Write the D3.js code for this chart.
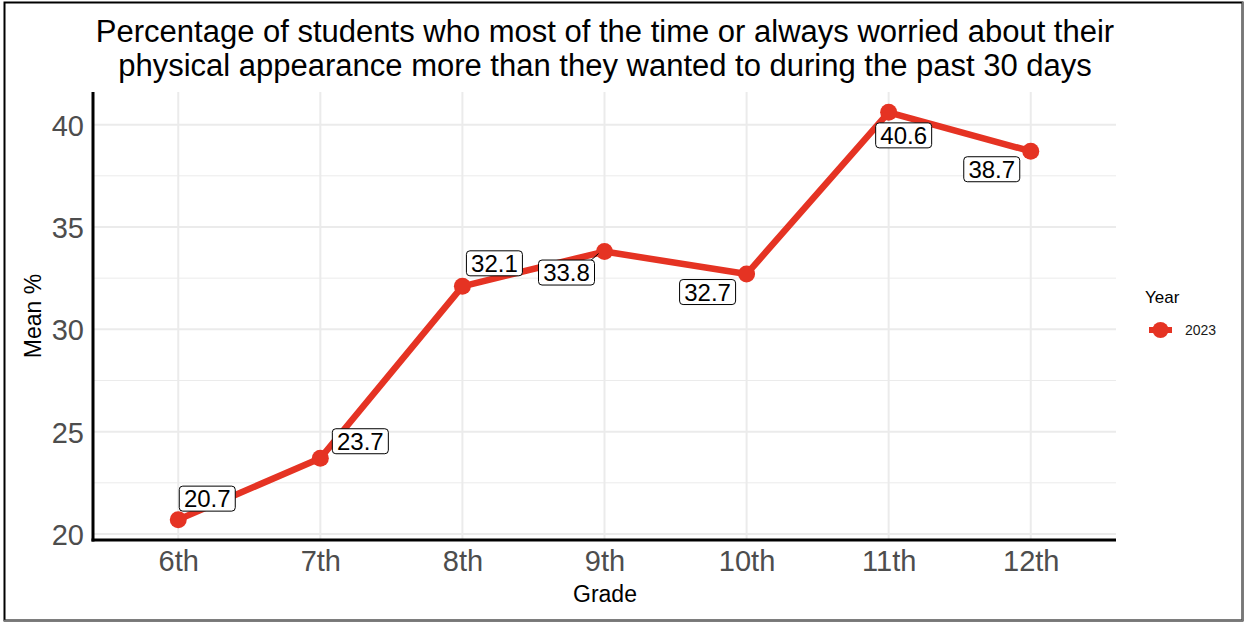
<!DOCTYPE html>
<html><head><meta charset="utf-8">
<script src="https://cdn.jsdelivr.net/npm/d3@7/dist/d3.min.js"></script>
<style>body{margin:0;background:#fff;} svg{display:block;font-family:"Liberation Sans",Arial,sans-serif;}</style>
</head><body>
<svg id="c" width="1244" height="623"></svg>
<script>
const grades = ["6th","7th","8th","9th","10th","11th","12th"];
const values = [20.7, 23.7, 32.1, 33.8, 32.7, 40.6, 38.7];
const yTicks = [20, 25, 30, 35, 40];
const yMinor = [22.5, 27.5, 32.5, 37.5];
const seriesName = "2023";
const titleLines = ["Percentage of students who most of the time or always worried about their",
                    "physical appearance more than they wanted to during the past 30 days"];
// label nudges (pixels, centre of label relative to point)
const labelNudge = [[29,-21],[40,-17],[32,-23],[-38,21],[-39,18],[15,23],[-39,18]];

const svg = d3.select("#c");
const red = "#e53323";
const L = 93, R = 1116, T = 92, B = 540;
const vMin = d3.min(values), vMax = d3.max(values), pad = 0.05*(vMax-vMin);
const yMin = vMin - pad, yMax = vMax + pad;

svg.append("rect").attr("x",4.5).attr("y",2.5).attr("width",1238).attr("height",618)
  .attr("fill","#fff").attr("stroke","#000").attr("stroke-width",2);
svg.append("line").attr("x1",1242.5).attr("x2",1242.5).attr("y1",2).attr("y2",621).attr("stroke","#777").attr("stroke-width",1.5);
svg.append("line").attr("x1",4).attr("x2",1243).attr("y1",620.5).attr("y2",620.5).attr("stroke","#777").attr("stroke-width",1.5);

const x = d3.scalePoint().domain(grades).range([L,R]).padding(0.6);
const y = d3.scaleLinear().domain([yMin,yMax]).range([B,T]);

const g = svg.append("g");
// grid
g.selectAll(".gmin").data(yMinor).join("line").attr("x1",L).attr("x2",R)
  .attr("y1",d=>y(d)).attr("y2",d=>y(d)).attr("stroke","#ebebeb").attr("stroke-width",1);
g.selectAll(".gmaj").data(yTicks).join("line").attr("x1",L).attr("x2",R)
  .attr("y1",d=>y(d)).attr("y2",d=>y(d)).attr("stroke","#ebebeb").attr("stroke-width",2);
g.selectAll(".gx").data(grades).join("line").attr("y1",T).attr("y2",B)
  .attr("x1",d=>x(d)).attr("x2",d=>x(d)).attr("stroke","#ebebeb").attr("stroke-width",2);

// axes
const xAxis = svg.append("g").attr("transform",`translate(0,${B})`)
  .call(d3.axisBottom(x).tickSize(0).tickPadding(10));
xAxis.select(".domain").remove();
xAxis.selectAll("text").attr("font-size",29).attr("fill","#4d4d4d").attr("font-family","Liberation Sans, Arial, sans-serif").attr("dy","0.71em");
const yAxis = svg.append("g").attr("transform",`translate(${L},0)`)
  .call(d3.axisLeft(y).tickValues(yTicks).tickSize(0).tickPadding(9));
yAxis.select(".domain").remove();
yAxis.selectAll("text").attr("font-size",29).attr("fill","#4d4d4d").attr("font-family","Liberation Sans, Arial, sans-serif").attr("dy","0.36em");

svg.append("line").attr("x1",L).attr("x2",L).attr("y1",T).attr("y2",B+1.5).attr("stroke","#000").attr("stroke-width",3);
svg.append("line").attr("x1",L-1.5).attr("x2",R).attr("y1",B).attr("y2",B).attr("stroke","#000").attr("stroke-width",3);

// line & points
const pts = grades.map((gname,i)=>({g:gname,v:values[i],n:labelNudge[i]}));
svg.append("path").datum(pts).attr("fill","none").attr("stroke",red).attr("stroke-width",6.5)
  .attr("stroke-linejoin","round")
  .attr("d",d3.line().x(d=>x(d.g)).y(d=>y(d.v)));
svg.selectAll(".pt").data(pts).join("circle").attr("cx",d=>x(d.g)).attr("cy",d=>y(d.v)).attr("r",8.5).attr("fill",red);

// segment for 33.8 label
const seg = pts[3];
svg.append("line").attr("x1",x(seg.g)+seg.n[0]+22).attr("y1",y(seg.v)+seg.n[1]-10)
  .attr("x2",x(seg.g)-6).attr("y2",y(seg.v)+2).attr("stroke","#000").attr("stroke-width",1);

// labels
const lab = svg.selectAll(".lab").data(pts).join("g")
  .attr("transform",d=>`translate(${x(d.g)+d.n[0]},${y(d.v)+d.n[1]})`);
lab.append("rect").attr("x",-28).attr("y",-12.5).attr("width",56).attr("height",25).attr("rx",3.5)
  .attr("fill","#fff").attr("stroke","#000").attr("stroke-width",1);
lab.append("text").attr("text-anchor","middle").attr("dy","0.36em").attr("font-size",24).attr("fill","#000")
  .text(d=>d.v.toFixed(1));

// title
svg.append("text").attr("x",605).attr("y",42).attr("text-anchor","middle").attr("font-size",31).attr("fill","#000").text(titleLines[0]);
svg.append("text").attr("x",605).attr("y",76).attr("text-anchor","middle").attr("font-size",31).attr("fill","#000").text(titleLines[1]);

// axis titles
svg.append("text").attr("x",605).attr("y",602).attr("text-anchor","middle").attr("font-size",23).attr("fill","#000").text("Grade");
svg.append("text").attr("transform","translate(41,316) rotate(-90)").attr("text-anchor","middle").attr("font-size",23).attr("fill","#000").text("Mean %");

// legend
svg.append("text").attr("x",1145).attr("y",303).attr("font-size",17).attr("fill","#000").text("Year");
svg.append("line").attr("x1",1149).attr("x2",1172).attr("y1",330).attr("y2",330).attr("stroke",red).attr("stroke-width",6);
svg.append("circle").attr("cx",1160.5).attr("cy",330).attr("r",8).attr("fill",red);
svg.append("text").attr("x",1185).attr("y",335).attr("font-size",14).attr("fill","#1a1a1a").text(seriesName);
</script>
</body></html>
